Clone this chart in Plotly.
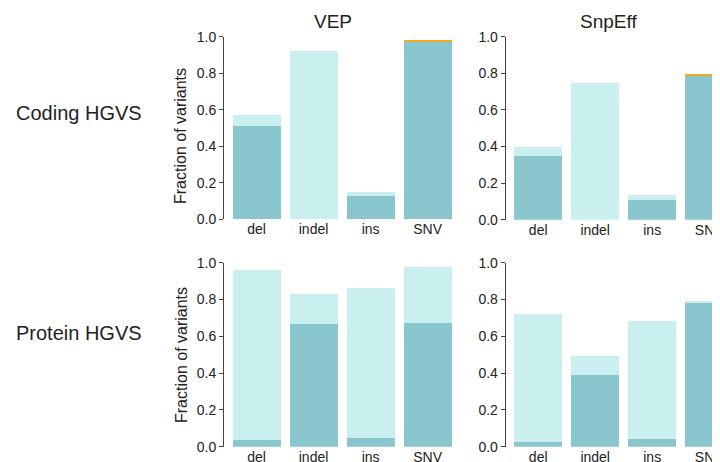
import plotly.graph_objects as go

categories = ["del", "indel", "ins", "SNV"]

# Coding HGVS
vep_coding_exact = [0.511, 0.0, 0.128, 0.977]
vep_coding_partial = [0.060, 0.921, 0.021, 0.0]
vep_coding_other = [0.0, 0.0, 0.0, 0.003]

snpeff_coding_exact = [0.349, 0.0, 0.109, 0.791]
snpeff_coding_partial = [0.049, 0.747, 0.027, 0.0]
snpeff_coding_other = [0.0, 0.0, 0.0, 0.008]

# Protein HGVS
vep_protein_exact = [0.036, 0.667, 0.047, 0.672]
vep_protein_partial = [0.924, 0.163, 0.815, 0.304]
vep_protein_other = [0.0, 0.0, 0.0, 0.0]

snpeff_protein_exact = [0.025, 0.390, 0.042, 0.783]
snpeff_protein_partial = [0.695, 0.103, 0.641, 0.007]
snpeff_protein_other = [0.0, 0.0, 0.0, 0.0]

col_titles = ["VEP", "SnpEff"]
row_titles = ["Coding HGVS", "Protein HGVS"]
y_title = "Fraction of variants"
y_ticks = [0.0, 0.2, 0.4, 0.6, 0.8, 1.0]

DARK = "#8AC6CD"
LIGHT = "#C9F0EF"
ORANGE = "#F5A623"
FONT = "Liberation Sans, Arial, Helvetica, sans-serif"

# the page body has an 8px margin: the figure starts 8px in
OFF = 8
W, H = 720, 462 - OFF

def px_x(v):
    return (v - OFF) / W

def px_y(v):
    return 1 - (v - OFF) / H

panels = [
    (1, vep_coding_exact, vep_coding_partial, vep_coding_other),
    (2, snpeff_coding_exact, snpeff_coding_partial, snpeff_coding_other),
    (3, vep_protein_exact, vep_protein_partial, vep_protein_other),
    (4, snpeff_protein_exact, snpeff_protein_partial, snpeff_protein_other),
]

# pixel geometry in window coordinates (right panels run past the window edge)
x_dom_px = {1: (224, 455), 2: (505.7, 728), 3: (224, 455), 4: (505.7, 728)}
y_dom_px = {1: (219.3, 36.7), 2: (219.8, 36.7), 3: (446.7, 262.7), 4: (446.7, 262.7)}
x_ranges = {1: [-0.57, 3.48], 2: [-0.57, 3.33], 3: [-0.57, 3.48], 4: [-0.57, 3.33]}

fig = go.Figure()
for idx, exact, partial, other in panels:
    xa = "x" if idx == 1 else f"x{idx}"
    ya = "y" if idx == 1 else f"y{idx}"
    for vals, col in ((exact, DARK), (partial, LIGHT), (other, ORANGE)):
        fig.add_trace(go.Bar(x=categories, y=vals, xaxis=xa, yaxis=ya,
                             marker=dict(color=col, line=dict(width=0)),
                             showlegend=False, hoverinfo="x+y"))

layout = dict(
    width=W, height=H, barmode="stack", bargap=0.158,
    margin=dict(l=0, r=0, t=0, b=0, pad=0, autoexpand=False),
    paper_bgcolor="white", plot_bgcolor="white",
    font=dict(family=FONT, size=14, color="#222"),
)
for idx in range(1, 5):
    xk = "xaxis" if idx == 1 else f"xaxis{idx}"
    yk = "yaxis" if idx == 1 else f"yaxis{idx}"
    ya = "y" if idx == 1 else f"y{idx}"
    xa = "x" if idx == 1 else f"x{idx}"
    x0, x1 = x_dom_px[idx]
    yb, yt = y_dom_px[idx]
    layout[xk] = dict(domain=[px_x(x0), min(1.0, px_x(x1))], range=x_ranges[idx], anchor=ya,
                      automargin=False,
                      showgrid=False, zeroline=False, showline=False, ticks="",
                      tickfont=dict(size=14, color="#222"), fixedrange=True)
    layout[yk] = dict(domain=[px_y(yb), px_y(yt)], range=[0, 1.0], anchor=xa,
                      automargin=False,
                      tickvals=y_ticks, ticktext=[f"{v:.1f}" for v in y_ticks],
                      showgrid=False, zeroline=False, showline=True,
                      linecolor="#444", linewidth=1, ticks="outside",
                      ticklen=4, tickcolor="#444",
                      tickfont=dict(size=14, color="#222"), fixedrange=True)
fig.update_layout(**layout)

annotations = []
for t, xc in zip(col_titles, [333, 608]):
    annotations.append(dict(text=t, x=px_x(xc), y=px_y(21), xref="paper", yref="paper",
                            showarrow=False, xanchor="center", yanchor="middle",
                            font=dict(size=19, color="#222", family=FONT)))
for t, yc in zip(row_titles, [113, 333]):
    annotations.append(dict(text=t, x=px_x(79), y=px_y(yc), xref="paper", yref="paper",
                            showarrow=False, xanchor="center", yanchor="middle",
                            font=dict(size=20, color="#222", family=FONT)))
for yc in [136, 355]:
    annotations.append(dict(text=y_title, x=px_x(181), y=px_y(yc), xref="paper", yref="paper",
                            showarrow=False, xanchor="center", yanchor="middle", textangle=-90,
                            font=dict(size=16, color="#222", family=FONT)))
fig.update_layout(annotations=annotations)

fig.write_html("out.html")
